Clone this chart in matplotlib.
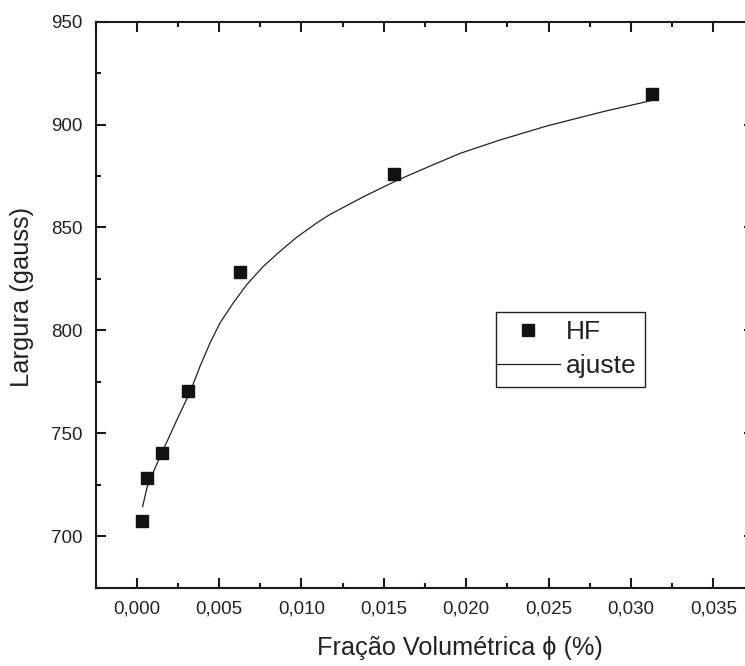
import matplotlib
matplotlib.use("Agg")
import matplotlib.pyplot as plt
from matplotlib.ticker import MultipleLocator, FuncFormatter
from matplotlib.lines import Line2D
from matplotlib.legend_handler import HandlerLine2D

plt.rcParams['font.family'] = ['Liberation Sans', 'DejaVu Sans']

# Measured data (HF)
phi = [0.0003125, 0.000625, 0.0015625, 0.003125, 0.00625, 0.015625, 0.03125]
largura = [707.4, 728.4, 740.3, 770.6, 828.2, 876.2, 914.7]

# Fit curve ("ajuste")
fit_x = [0.00036, 0.00064, 0.00110, 0.00161, 0.00243, 0.00324, 0.00384, 0.00445,
         0.00506, 0.00586, 0.00668, 0.00769, 0.00870, 0.00971, 0.01093, 0.01173,
         0.01376, 0.01578, 0.01780, 0.01963, 0.02205, 0.02489, 0.02832, 0.03136]
fit_y = [714.3, 724.0, 732.8, 741.9, 756.3, 770.0, 782.4, 793.8,
         803.6, 813.3, 822.2, 831.1, 838.4, 845.2, 852.2, 856.3,
         864.9, 872.8, 879.8, 886.0, 892.5, 899.3, 906.3, 911.9]

xlabel = "Fração Volumétrica \u03d5 (%)"
ylabel = "Largura (gauss)"

fig = plt.figure(figsize=(7.45, 6.66), dpi=100)
W, H = 745, 666
ax = fig.add_axes([95.5 / W, 1 - 587.5 / H, (754.5 - 95.5) / W, (587.5 - 21.7) / H])

ax.plot(fit_x, fit_y, color='#222222', lw=0.9, zorder=2, solid_joinstyle='round')
ax.plot(phi, largura, ls='none', marker='s', ms=9, color='#111111', zorder=3)

ax.set_xlim(-0.0025, 0.0375)
ax.set_ylim(675, 950)
ax.xaxis.set_major_locator(MultipleLocator(0.005))
ax.xaxis.set_minor_locator(MultipleLocator(0.0025))
ax.yaxis.set_major_locator(MultipleLocator(50))
ax.yaxis.set_minor_locator(MultipleLocator(25))
ax.xaxis.set_major_formatter(FuncFormatter(lambda v, p: f"{v:.3f}".replace('.', ',').replace('-0,000', '0,000')))
ax.yaxis.set_major_formatter(FuncFormatter(lambda v, p: f"{v:.0f}"))

ax.tick_params(which='both', direction='in', top=True, right=True, width=1.5, colors='#1a1a1a')
ax.tick_params(which='major', length=7, labelsize=13.5, labelcolor='#222222')
ax.tick_params(which='minor', length=3.5)
ax.tick_params(axis='x', which='major', pad=9)
ax.tick_params(axis='y', which='major', pad=9)
for s in ax.spines.values():
    s.set_linewidth(1.5)
    s.set_color('#1a1a1a')

ax.set_xlabel(xlabel, fontsize=18.2, color='#222222')
ax.set_ylabel(ylabel, fontsize=18.4, color='#222222')
ax.xaxis.set_label_coords((460 - 95.5) / 659, (587.5 - 636) / 565.8)
ax.yaxis.set_label_coords((34 - 95.5) / 659, (587.5 - 297) / 565.8)

handles = [Line2D([], [], ls='none', marker='s', ms=9, color='#111111'),
           Line2D([], [], color='#222222', lw=0.9)]
bp = 0.33
leg = ax.legend(handles, ['HF', 'ajuste'], loc='upper left',
                bbox_to_anchor=(496 / W, 1 - 311.7 / H), bbox_transform=fig.transFigure,
                borderaxespad=0, fontsize=19, frameon=True, fancybox=False,
                edgecolor='#222222', framealpha=1, borderpad=bp,
                handlelength=2.1, handletextpad=0.2, labelspacing=0.36,
                handler_map={Line2D: HandlerLine2D(xpad=-bp)})
leg.get_frame().set_linewidth(1.0)
for t in leg.get_texts():
    t.set_color('#222222')

fig.savefig('out.png', dpi=100)
